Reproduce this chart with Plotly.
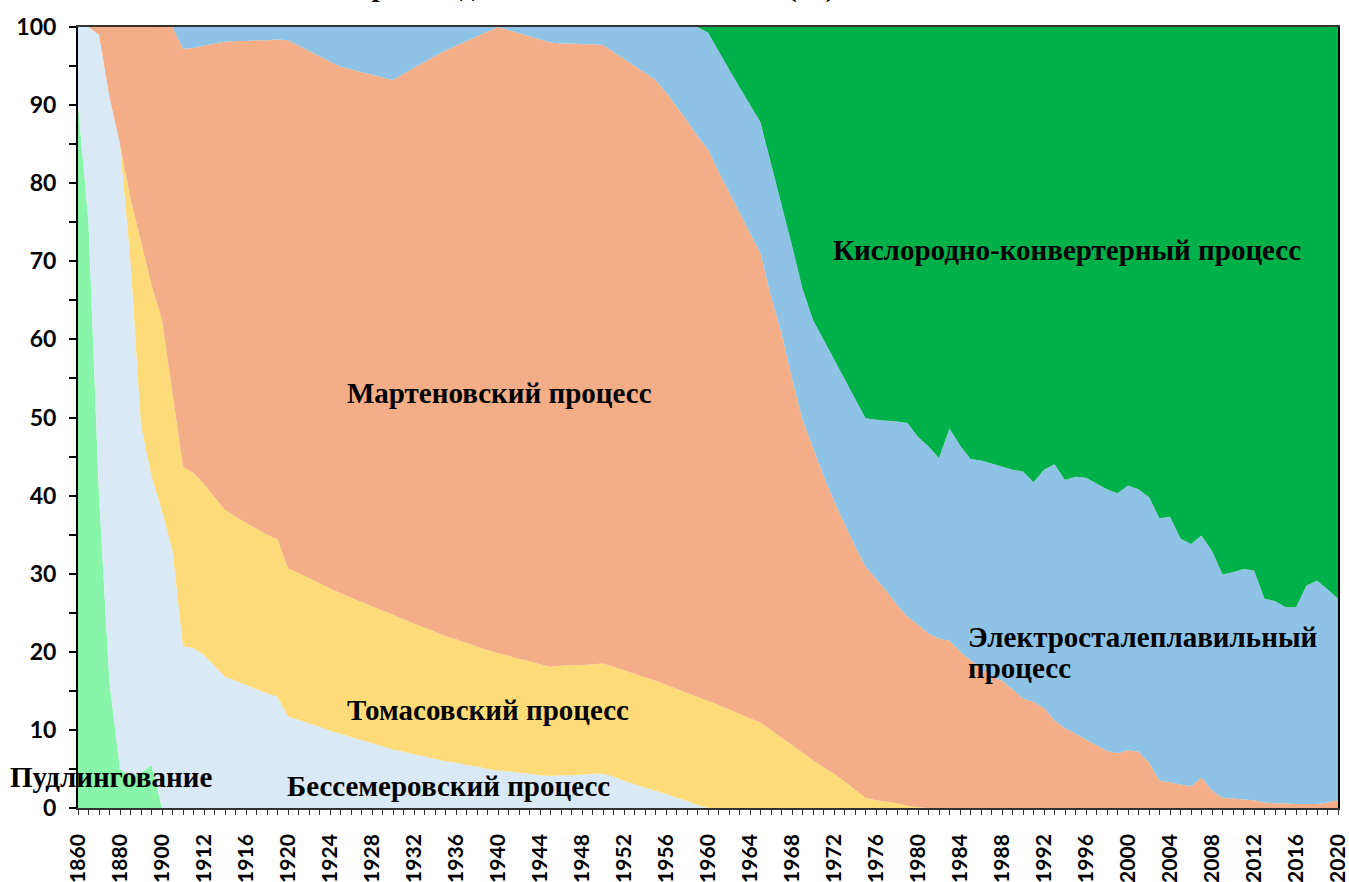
import plotly.graph_objects as go

# ---- categories (x axis) ----
CATEGORY_YEARS = [1860, 1865, 1870, 1875, 1880, 1885, 1890, 1895, 1900, 1905] + list(range(1910, 2021))
YEAR_LABELS = [str(y) for y in CATEGORY_YEARS]
TICK_LABELS = ["1860", "1880", "1900", "1912", "1916", "1920", "1924", "1928", "1932", "1936",
               "1940", "1944", "1948", "1952", "1956", "1960", "1964", "1968", "1972", "1976",
               "1980", "1984", "1988", "1992", "1996", "2000", "2004", "2008", "2012", "2016", "2020"]

# ---- series values (% share), one value per category ----
PUDDLING = [90, 75, 40, 16, 5, 4, 4.5, 5.5, 0, 0,            # 1860-1905
            0, 0, 0, 0, 0, 0, 0, 0, 0, 0,                      # 1910-1919
            0, 0, 0, 0, 0, 0, 0, 0, 0, 0,                      # 1920s
            0, 0, 0, 0, 0, 0, 0, 0, 0, 0,                      # 1930s
            0, 0, 0, 0, 0, 0, 0, 0, 0, 0,                      # 1940s
            0, 0, 0, 0, 0, 0, 0, 0, 0, 0,                      # 1950s
            0, 0, 0, 0, 0, 0, 0, 0, 0, 0,                      # 1960s
            0, 0, 0, 0, 0, 0, 0, 0, 0, 0,                      # 1970s
            0, 0, 0, 0, 0, 0, 0, 0, 0, 0,                      # 1980s
            0, 0, 0, 0, 0, 0, 0, 0, 0, 0,                      # 1990s
            0, 0, 0, 0, 0, 0, 0, 0, 0, 0,                      # 2000s
            0, 0, 0, 0, 0, 0, 0, 0, 0, 0,                      # 2010s
            0]                                                 # 2020

BESSEMER = [10, 25, 59, 75, 80, 66, 44.5, 37, 38, 33,
            20.7, 20.5, 19.6, 18.2, 16.8, 16.3, 15.7, 15.2, 14.7, 14.2,
            11.7, 11.3, 10.8, 10.4, 9.9, 9.5, 9.1, 8.7, 8.3, 7.9,
            7.5, 7.2, 6.9, 6.6, 6.3, 6.0, 5.8, 5.5, 5.3, 5.0,
            4.8, 4.7, 4.5, 4.4, 4.2, 4.1, 4.2, 4.2, 4.3, 4.4,
            4.4, 4.0, 3.5, 3.1, 2.6, 2.2, 1.8, 1.3, 0.9, 0.4,
            0, 0, 0, 0, 0, 0, 0, 0, 0, 0,
            0, 0, 0, 0, 0, 0, 0, 0, 0, 0,
            0, 0, 0, 0, 0, 0, 0, 0, 0, 0,
            0, 0, 0, 0, 0, 0, 0, 0, 0, 0,
            0, 0, 0, 0, 0, 0, 0, 0, 0, 0,
            0, 0, 0, 0, 0, 0, 0, 0, 0, 0,
            0]

THOMAS = [0, 0, 0, 0, 0, 8, 23.5, 24.5, 24.5, 20,
          23.0, 22.4, 21.9, 21.6, 21.4, 21.0, 20.8, 20.5, 20.3, 20.2,
          19.0, 18.8, 18.6, 18.4, 18.2, 18.0, 17.8, 17.7, 17.5, 17.4,
          17.2, 17.0, 16.7, 16.5, 16.2, 16.0, 15.8, 15.6, 15.4, 15.2,
          15.0, 14.8, 14.6, 14.4, 14.2, 14.0, 14.0, 14.1, 14.0, 14.0,
          14.1, 14.1, 14.1, 14.1, 14.1, 14.1, 14.0, 14.0, 13.8, 13.8,
          13.7, 13.2, 12.6, 12.0, 11.5, 10.9, 10.0, 9.0, 8.0, 7.0,
          6.1, 5.2, 4.4, 3.4, 2.3, 1.3, 1.0, 0.8, 0.6, 0.3,
          0.1, 0, 0, 0, 0, 0, 0, 0, 0, 0,
          0, 0, 0, 0, 0, 0, 0, 0, 0, 0,
          0, 0, 0, 0, 0, 0, 0, 0, 0, 0,
          0, 0, 0, 0, 0, 0, 0, 0, 0, 0,
          0]

MARTIN = [0, 0, 1, 9, 15, 22, 27.5, 33, 37.5, 47,
          53.5, 54.4, 56.1, 58.1, 59.9, 60.9, 61.7, 62.6, 63.3, 64.0,
          67.6, 67.5, 67.5, 67.4, 67.5, 67.4, 67.7, 67.8, 68.1, 68.2,
          68.5, 69.8, 71.2, 72.4, 73.8, 75.0, 76.0, 77.1, 78.1, 79.2,
          80.2, 80.1, 80.1, 80.0, 80.0, 79.9, 79.7, 79.6, 79.5, 79.4,
          79.2, 78.7, 78.3, 77.8, 77.4, 76.9, 75.8, 74.5, 73.3, 71.8,
          70.6, 68.3, 66.2, 64.2, 62.1, 60.1, 55.5, 51.8, 47.0, 42.7,
          39.9, 37.3, 34.9, 32.9, 31.2, 29.6, 28.3, 27.0, 25.4, 24.2,
          23.4, 22.3, 21.7, 21.4, 20.0, 19.0, 17.9, 16.8, 16.3, 15.2,
          14.0, 13.6, 12.8, 11.2, 10.2, 9.5, 8.8, 8.0, 7.3, 7.0,
          7.4, 7.2, 5.8, 3.5, 3.3, 3.0, 2.8, 3.9, 2.2, 1.3,
          1.2, 1.1, 1.0, 0.7, 0.6, 0.6, 0.5, 0.5, 0.5, 0.7,
          1.0]

ELECTRIC = [0, 0, 0, 0, 0, 0, 0, 0, 0, 0,
            2.8, 2.7, 2.4, 2.1, 1.9, 1.8, 1.8, 1.7, 1.7, 1.6,
            1.7, 2.4, 3.1, 3.8, 4.4, 5.1, 5.4, 5.8, 6.1, 6.5,
            6.8, 6.0, 5.2, 4.5, 3.7, 3.0, 2.4, 1.8, 1.2, 0.6,
            0.0, 0.4, 0.8, 1.2, 1.6, 2.0, 2.1, 2.1, 2.2, 2.2,
            2.3, 3.2, 4.1, 5.0, 5.9, 6.8, 8.4, 10.2, 12.0, 14.0,
            15.0, 15.4, 15.8, 16.1, 16.4, 16.8, 17.0, 16.5, 17.0, 16.8,
            16.5, 17.5, 18.2, 18.5, 18.8, 19.0, 20.4, 21.8, 23.5, 24.8,
            24.0, 24.0, 23.1, 27.2, 26.4, 25.7, 26.6, 27.3, 27.4, 28.1,
            29.1, 28.1, 30.5, 32.8, 31.8, 32.9, 33.5, 33.5, 33.5, 33.3,
            33.9, 33.6, 34.0, 33.6, 34.0, 31.5, 31.0, 31.0, 30.7, 28.6,
            29.0, 29.5, 29.4, 26.1, 25.9, 25.1, 25.2, 28.0, 28.6, 27.3,
            25.8]

OXYGEN = [0, 0, 0, 0, 0, 0, 0, 0, 0, 0,
          0, 0, 0, 0, 0, 0, 0, 0, 0, 0,
          0, 0, 0, 0, 0, 0, 0, 0, 0, 0,
          0, 0, 0, 0, 0, 0, 0, 0, 0, 0,
          0, 0, 0, 0, 0, 0, 0, 0, 0, 0,
          0, 0, 0, 0, 0, 0, 0, 0, 0, 0,
          0.7, 3.1, 5.4, 7.7, 10.0, 12.2, 17.5, 22.7, 28.0, 33.5,
          37.5, 40.0, 42.5, 45.2, 47.7, 50.1, 50.3, 50.4, 50.5, 50.7,
          52.5, 53.7, 55.2, 51.4, 53.6, 55.3, 55.5, 55.9, 56.3, 56.7,
          56.9, 58.3, 56.7, 56.0, 58.0, 57.6, 57.7, 58.5, 59.2, 59.7,
          58.7, 59.2, 60.2, 62.9, 62.7, 65.5, 66.2, 65.1, 67.1, 70.1,
          69.8, 69.4, 69.6, 73.2, 73.5, 74.3, 74.3, 71.5, 70.9, 72.0,
          73.2]

SERIES_NAMES = ["Пудлингование", "Бессемеровский процесс", "Томасовский процесс",
                "Мартеновский процесс", "Электросталеплавильный процесс",
                "Кислородно-конвертерный процесс"]
SERIES_VALUES = [PUDDLING, BESSEMER, THOMAS, MARTIN, ELECTRIC, OXYGEN]
SERIES_COLORS = ["#88F5A8", "#D9E9F5", "#FDDB78", "#F3AE87", "#8EC3E6", "#00B14A"]

fig = go.Figure()
for name, vals, col in zip(SERIES_NAMES, SERIES_VALUES, SERIES_COLORS):
    fig.add_trace(go.Scatter(
        x=YEAR_LABELS, y=vals, name=name, mode="lines",
        stackgroup="one", groupnorm="percent",
        line=dict(width=0, color=col), fillcolor=col,
        showlegend=False, hoverinfo="x+y+name",
    ))

SERIF = "Liberation Serif"
label_font = dict(family=SERIF, size=29, color="black")

W, H = 1349, 882
PLOT_L, PLOT_R, PLOT_T, PLOT_B = 78, 1338, 27, 808


def px_x(px):
    return (px - PLOT_L) / float(PLOT_R - PLOT_L)


def px_y(py):
    return (PLOT_B - py) / float(PLOT_B - PLOT_T)


annotations = [
    dict(text="<b>Кислородно-конвертерный процесс</b>", x=px_x(831), y=px_y(250)),
    dict(text="<b>Мартеновский процесс</b>", x=px_x(345), y=px_y(393)),
    dict(text="<b>Электросталеплавильный</b>", x=px_x(966), y=px_y(637)),
    dict(text="<b>процесс</b>", x=px_x(966), y=px_y(668)),
    dict(text="<b>Томасовский процесс</b>", x=px_x(345), y=px_y(710)),
    dict(text="<b>Бессемеровский процесс</b>", x=px_x(285), y=px_y(786)),
    dict(text="<b>Пудлингование</b>", x=px_x(8), y=px_y(777)),
]
for a in annotations:
    a.update(xref="paper", yref="paper", xanchor="left", yanchor="middle",
             showarrow=False, font=label_font)

# title, cut off by the top edge as in the reference
annotations.append(dict(text="<b>Производство стали по способам (%)</b>", xref="paper", yref="paper",
                        x=px_x(592), y=px_y(-14), xanchor="center", yanchor="middle",
                        showarrow=False, font=label_font))

x_tick_font = dict(family="Lato", size=21, color="black", weight="bold")
y_tick_font = dict(family="Lato", size=23, color="black", weight="bold")

fig.update_layout(
    width=W, height=H,
    margin=dict(l=PLOT_L, r=W - PLOT_R, t=PLOT_T, b=H - PLOT_B),
    paper_bgcolor="white", plot_bgcolor="white",
    annotations=annotations,
    xaxis=dict(
        type="category", categoryorder="array", categoryarray=YEAR_LABELS,
        range=[0, len(YEAR_LABELS) - 1], automargin=False,
        tickmode="array", tickvals=YEAR_LABELS,
        ticktext=[s if s in TICK_LABELS else "" for s in YEAR_LABELS],
        tickangle=-90, ticks="outside", ticklen=5, tickcolor="#333", tickwidth=1,
        tickfont=x_tick_font, ticklabelstandoff=11,
        showline=True, linecolor="#333", linewidth=1.5, mirror=True,
        showgrid=False, zeroline=False,
    ),
    yaxis=dict(
        range=[0, 100], dtick=10, tick0=0, automargin=False,
        ticks="outside", ticklen=7, tickcolor="black", tickwidth=1.5,
        minor=dict(dtick=5, ticks="outside", ticklen=7, tickcolor="black", tickwidth=1.5),
        tickfont=y_tick_font, ticklabelstandoff=8,
        showline=True, linecolor="black", linewidth=2, mirror=True,
        showgrid=False, zeroline=False,
    ),
)

# remove the default page margin so the figure sits at the window's top-left corner
fig.write_html("out.html",
               config={"displayModeBar": False},
               post_script="document.body.style.margin='0';document.body.style.overflow='hidden';")
